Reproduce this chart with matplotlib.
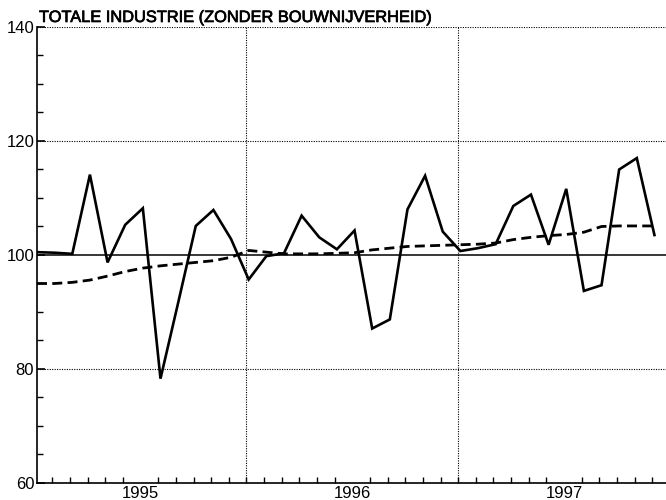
import matplotlib
matplotlib.use('Agg')
import matplotlib.pyplot as plt
import matplotlib.patheffects as pe
from matplotlib.ticker import MultipleLocator, FixedLocator
import numpy as np

# maandcijfers, index 0 = eerste maand links op de as; jaargrenzen bij 12 en 24
maand = np.arange(36)
productie = [100.5, 100.4, 100.2, 114.1, 98.7, 105.3, 108.2, 78.3, 91.6, 105.1,
             107.9, 102.8, 95.7, 99.8, 100.3, 106.9, 103.1, 101.0, 104.3, 87.1,
             88.7, 108.0, 113.9, 104.1, 100.7, 101.2, 101.9, 108.6, 110.6, 101.8,
             111.6, 93.7, 94.7, 115.0, 117.0, 103.5]
trend = [95.0, 95.0, 95.2, 95.6, 96.3, 97.1, 97.7, 98.1, 98.4, 98.7,
         99.0, 99.6, 100.8, 100.5, 100.2, 100.2, 100.2, 100.3, 100.4, 100.9,
         101.2, 101.5, 101.6, 101.7, 101.8, 101.9, 102.1, 102.7, 103.1, 103.4,
         103.6, 104.0, 105.0, 105.1, 105.1, 105.1]
jaren = ['1995', '1996', '1997']
jaar_pos = [6, 18, 30]

plt.rcParams['font.family'] = ['Liberation Sans', 'DejaVu Sans']

# punten liggen iets rechts van de maandstreepjes
x = maand + 0.125

fig = plt.figure(figsize=(6.66, 5.0), dpi=100)
ax = fig.add_axes([37 / 666, 17 / 500, 1 - 37 / 666, 456 / 500])

ax.plot(x, productie, color='black', lw=1.9, solid_joinstyle='miter', zorder=4)
ax.plot(x, trend, color='black', lw=2.0, dashes=(3.6, 1.9), zorder=3)
ax.axhline(100, color='black', lw=1.1, zorder=2)

for y in (80, 120, 140):
    ax.axhline(y, color='black', lw=0.8, ls=(0, (1, 1.2)), zorder=1)
for xv in (12, 24):
    ax.axvline(xv, color='black', lw=0.8, ls=(0, (1, 1.2)), zorder=1)

ax.set_xlim(0.125, 35.78)
ax.set_ylim(60, 140)

ax.spines['top'].set_visible(False)
ax.spines['right'].set_visible(False)
ax.spines['left'].set_linewidth(1.2)
ax.spines['bottom'].set_linewidth(1.2)

ax.yaxis.set_major_locator(MultipleLocator(20))
ax.yaxis.set_minor_locator(MultipleLocator(5))
ax.tick_params(axis='y', which='major', direction='in', length=6, width=1.2,
               labelsize=12, pad=2)
ax.tick_params(axis='y', which='minor', direction='in', length=4, width=1.0)

ax.xaxis.set_major_locator(FixedLocator(jaar_pos))
ax.set_xticklabels(jaren)
ax.xaxis.set_minor_locator(MultipleLocator(1))
ax.tick_params(axis='x', which='major', length=0, labelsize=12, pad=2)
ax.tick_params(axis='x', which='minor', direction='in', length=4, width=1.0)

fig.text(39 / 666, 1 - 25 / 500, 'TOTALE INDUSTRIE (ZONDER BOUWNIJVERHEID)',
         fontsize=11.8, ha='left', va='bottom',
         path_effects=[pe.withStroke(linewidth=0.5, foreground='black')])

fig.savefig('out.png', dpi=100)
